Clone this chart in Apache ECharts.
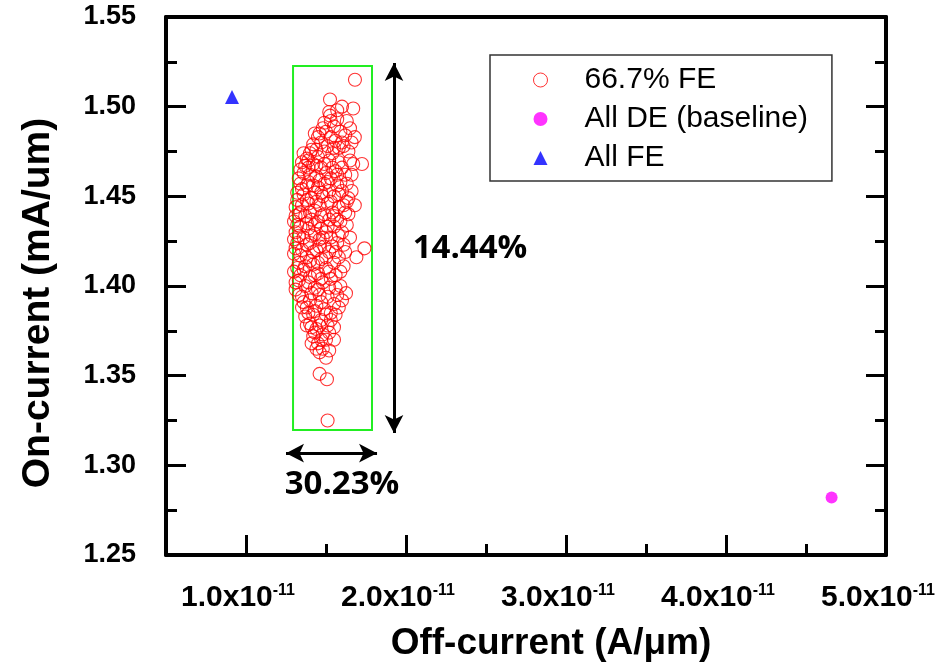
<!DOCTYPE html>
<html>
<head>
<meta charset="utf-8">
<script src="https://cdn.jsdelivr.net/npm/echarts@6/dist/echarts.min.js"></script>
<style>
html,body{margin:0;padding:0;background:#fff;}
#main{width:948px;height:672px;}
</style>
</head>
<body>
<div id="main"></div>
<script>
// Off-current in units of 1e-11 A/um, On-current in mA/um
const fe667Points = [
  [1.681,1.515],[1.525,1.504],[1.60,1.500],[1.67,1.499],[1.525,1.495],[1.53,1.492],[1.52,1.497],[1.57,1.493],
  [1.48,1.488],[1.55,1.489],[1.50,1.486],[1.65,1.488],[1.59,1.486],[1.46,1.485],[1.68,1.483],[1.62,1.484],
  [1.53,1.483],[1.49,1.491],[1.60,1.480],[1.45,1.483],[1.64,1.475],[1.41,1.476],[1.55,1.477],
  [1.42,1.479],[1.47,1.480],[1.51,1.478],[1.56,1.481],[1.44,1.476],[1.58,1.477],[1.49,1.475],[1.40,1.474],
  [1.54,1.474],[1.61,1.478],[1.45,1.472],[1.38,1.471],
  [1.35,1.469],[1.37,1.467],[1.42,1.468],[1.52,1.470],[1.58,1.469],[1.65,1.470],[1.725,1.468],[1.47,1.466],
  [1.56,1.464],[1.36,1.463],[1.40,1.462],[1.50,1.463],[1.44,1.461],[1.53,1.460],[1.62,1.462],[1.33,1.460],
  [1.39,1.470],[1.44,1.467],[1.49,1.468],[1.54,1.466],[1.46,1.459],[1.39,1.458],[1.51,1.458],
  [1.34,1.457],[1.38,1.456],[1.45,1.455],[1.49,1.457],[1.57,1.456],[1.43,1.452],[1.52,1.453],[1.60,1.453],
  [1.36,1.451],[1.41,1.449],[1.48,1.450],[1.55,1.450],[1.64,1.449],[1.32,1.448],
  [1.35,1.454],[1.42,1.456],[1.47,1.452],[1.58,1.451],[1.38,1.448],[1.44,1.447],[1.53,1.447],
  [1.31,1.444],[1.35,1.445],[1.39,1.446],[1.46,1.445],[1.51,1.446],[1.58,1.444],[1.68,1.445],[1.43,1.442],
  [1.54,1.441],[1.33,1.440],[1.37,1.439],[1.49,1.440],[1.62,1.441],[1.41,1.437],[1.45,1.436],[1.52,1.437],
  [1.30,1.436],[1.57,1.437],[1.34,1.441],[1.40,1.441],[1.47,1.439],[1.55,1.439],
  [1.34,1.433],[1.39,1.432],[1.47,1.432],[1.55,1.433],[1.31,1.430],[1.43,1.429],[1.50,1.430],[1.60,1.430],
  [1.36,1.427],[1.46,1.426],[1.53,1.427],[1.32,1.424],[1.40,1.424],[1.57,1.424],[1.49,1.422],[1.74,1.421],
  [1.69,1.416],[1.44,1.420],[1.35,1.420],[1.52,1.419],[1.30,1.418],[1.62,1.419],
  [1.38,1.435],[1.43,1.434],[1.51,1.433],[1.33,1.428],[1.41,1.428],[1.48,1.427],[1.38,1.423],[1.46,1.422],
  [1.54,1.422],[1.42,1.419],[1.34,1.417],[1.50,1.416],
  [1.38,1.416],[1.47,1.415],[1.33,1.413],[1.42,1.412],[1.55,1.413],[1.50,1.410],[1.36,1.409],[1.30,1.408],
  [1.45,1.407],[1.59,1.408],[1.40,1.405],[1.53,1.404],[1.33,1.403],[1.48,1.402],[1.37,1.400],[1.43,1.399],
  [1.56,1.399],[1.31,1.398],[1.40,1.414],[1.45,1.413],[1.37,1.411],[1.52,1.408],[1.43,1.406],[1.34,1.406],
  [1.47,1.404],[1.39,1.402],[1.45,1.398],[1.52,1.399],
  [1.625,1.396],[1.46,1.395],[1.51,1.394],[1.35,1.394],[1.40,1.392],[1.55,1.390],[1.44,1.389],[1.38,1.388],
  [1.49,1.387],[1.58,1.388],[1.42,1.384],[1.53,1.385],[1.37,1.383],[1.47,1.381],[1.40,1.379],[1.51,1.378],
  [1.44,1.376],[1.55,1.377],[1.42,1.372],[1.48,1.373],[1.45,1.368],[1.50,1.370],[1.44,1.365],[1.52,1.374],
  [1.41,1.396],[1.36,1.391],[1.47,1.391],[1.43,1.386],[1.50,1.384],[1.46,1.378],[1.39,1.385],[1.41,1.377],
  [1.53,1.381],[1.47,1.370],[1.43,1.374],[1.48,1.365],[1.46,1.363],
  [1.57,1.462],[1.60,1.466],[1.59,1.458],[1.61,1.445],[1.63,1.457],[1.66,1.462],[1.59,1.436],[1.63,1.434],
  [1.58,1.428],[1.61,1.423],[1.58,1.416],[1.56,1.406],[1.61,1.411],[1.57,1.395],[1.59,1.400],[1.56,1.384],
  [1.32,1.452],[1.31,1.439],[1.32,1.434],[1.30,1.426],[1.31,1.421],[1.32,1.410],[1.31,1.402],[1.33,1.395],
  [1.35,1.388],[1.34,1.465],[1.36,1.474],[1.43,1.485],[1.57,1.498],[1.63,1.492],[1.66,1.480],[1.67,1.468],
  [1.52,1.364],[1.55,1.370],[1.50,1.360],[1.41,1.368],[1.38,1.378],[1.39,1.466],[1.56,1.419],[1.63,1.447],
  [1.66,1.453],[1.64,1.440],[1.65,1.427],[1.60,1.392],
  [1.46,1.351],[1.506,1.348],[1.51,1.325]
];
const allDEPoints = [[4.66, 1.282]];
const allFEPoints = [[0.9125, 1.5054]];

const seriesNames = ['66.7% FE', 'All DE (baseline)', 'All FE'];
const xMajorTicks = [1, 2, 3, 4];
const xMinorTicks = [1.5, 2.5, 3.5, 4.5];
const xLabelValues = [1, 2, 3, 4, 5];

// annotation geometry in data units
const boxCorners = [[1.294, 1.3197], [1.7875, 1.5227]];
const vArrow = [[1.925, 1.5243], [1.925, 1.318]];
const hArrow = [[1.25, 1.3068], [1.819, 1.3068]];
const annotations = [
  {text: '14.44%', coord: [2.4, 1.4206]},
  {text: '30.23%', coord: [1.6, 1.2895]}
];

const chart = echarts.init(document.getElementById('main'), null, {renderer: 'canvas'});

const axisLineStyle = {color: '#000', width: 4};
const tickStyle = {color: '#000', width: 3};
const narrow = "'Liberation Sans Narrow', 'Liberation Sans', Arial, sans-serif";
const arial = "'Liberation Sans', Arial, sans-serif";

const option = {
  backgroundColor: '#fff',
  animation: false,
  grid: {left: 166, right: 62, top: 17, bottom: 117, containLabel: false},
  legend: {
    show: true,
    orient: 'vertical',
    left: 490, top: 55,
    padding: [10, 24, 8, 43],
    itemGap: 9,
    itemWidth: 14, itemHeight: 14,
    borderColor: '#333', borderWidth: 1.5,
    textStyle: {fontFamily: arial, fontSize: 30, color: '#000', lineHeight: 30, padding: [0, 0, 0, 32]},
    data: [
      {name: seriesNames[0], icon: 'circle', itemStyle: {color: '#fff', borderColor: '#ff0000', borderWidth: 1}},
      {name: seriesNames[1], icon: 'circle'},
      {name: seriesNames[2], icon: 'triangle'}
    ]
  },
  xAxis: [
    {
      type: 'value', min: 0.5, max: 5.0, interval: 0.5, position: 'bottom',
      name: 'Off-current (A/\u03bcm)', nameLocation: 'middle', nameGap: 70,
      nameTextStyle: {fontFamily: arial, fontWeight: 'bold', fontSize: 37, color: '#000', padding: [0, 0, 0, 50]},
      axisLine: {show: true, lineStyle: axisLineStyle},
      axisTick: {show: true, inside: true, length: 20, lineStyle: tickStyle, customValues: xMajorTicks},
      splitLine: {show: false},
      axisLabel: {
        show: true, margin: 28, customValues: xLabelValues,
        formatter: v => '{m|' + v.toFixed(1) + 'x10}{s|-11}',
        rich: {
          m: {fontFamily: narrow, fontWeight: 'bold', fontSize: 30, color: '#000', padding: [0, 0, 0, 0]},
          s: {fontFamily: narrow, fontWeight: 'bold', fontSize: 16, color: '#000', verticalAlign: 'top', padding: [0, 16, 0, 0]}
        }
      }
    },
    {
      type: 'value', min: 0.5, max: 5.0, interval: 0.5, position: 'bottom',
      axisLine: {show: false},
      axisTick: {show: true, inside: true, length: 11, lineStyle: tickStyle, customValues: xMinorTicks},
      axisLabel: {show: false}, splitLine: {show: false}
    },
    {
      type: 'value', min: 0.5, max: 5.0, interval: 0.5, position: 'top',
      axisLine: {show: true, onZero: false, lineStyle: axisLineStyle},
      axisTick: {show: false}, axisLabel: {show: false}, splitLine: {show: false}
    }
  ],
  yAxis: [
    {
      type: 'value', min: 1.25, max: 1.55, interval: 0.05, position: 'left',
      name: 'On-current (mA/um)', nameLocation: 'middle', nameGap: 108,
      nameTextStyle: {fontFamily: arial, fontWeight: 'bold', fontSize: 39, color: '#000', padding: [0, 34, 0, 0]},
      axisLine: {show: true, onZero: false, lineStyle: axisLineStyle},
      axisTick: {show: true, inside: true, length: 20, lineStyle: tickStyle},
      minorTick: {show: true, splitNumber: 2, length: 11, lineStyle: tickStyle},
      axisLabel: {show: true, margin: 30, fontFamily: arial, fontWeight: 'bold', fontSize: 27, color: '#000',
        formatter: v => v.toFixed(2)},
      splitLine: {show: false}
    },
    {
      type: 'value', min: 1.25, max: 1.55, interval: 0.05, position: 'right',
      axisLine: {show: true, onZero: false, lineStyle: axisLineStyle},
      axisTick: {show: true, inside: true, length: 20, lineStyle: tickStyle},
      minorTick: {show: true, splitNumber: 2, length: 11, lineStyle: tickStyle},
      axisLabel: {show: false}, splitLine: {show: false}
    }
  ],
  series: [
    {
      name: seriesNames[0], type: 'scatter', xAxisIndex: 0, yAxisIndex: 0,
      data: fe667Points, symbol: 'circle', symbolSize: 13,
      itemStyle: {color: 'rgba(255,255,255,0)', borderColor: '#ff0000', borderWidth: 1.1},
      emphasis: {disabled: true},
      markArea: {
        silent: true,
        itemStyle: {color: 'rgba(0,0,0,0)', borderColor: '#22ee22', borderWidth: 2},
        data: [[{coord: boxCorners[0]}, {coord: boxCorners[1]}]]
      },
      markLine: {
        silent: true, symbol: ['arrow', 'arrow'], symbolSize: [14, 18],
        lineStyle: {color: '#000', width: 3, type: 'solid'},
        label: {show: false},
        data: [
          [{coord: vArrow[0]}, {coord: vArrow[1]}],
          [{coord: hArrow[0]}, {coord: hArrow[1]}]
        ]
      },
      markPoint: {
        silent: true, symbol: 'circle', symbolSize: 0,
        label: {show: true, position: 'inside', fontFamily: "'Open Sans', 'DejaVu Sans', sans-serif", fontWeight: 'bold',
          fontSize: 33, color: '#000', formatter: p => p.name},
        data: annotations.map(a => ({name: a.text, coord: a.coord}))
      }
    },
    {
      name: seriesNames[1], type: 'scatter', xAxisIndex: 0, yAxisIndex: 0,
      data: allDEPoints, symbol: 'circle', symbolSize: 12,
      itemStyle: {color: '#ff00ff'}
    },
    {
      name: seriesNames[2], type: 'scatter', xAxisIndex: 0, yAxisIndex: 0,
      data: allFEPoints, symbol: 'triangle', symbolSize: 14,
      itemStyle: {color: '#0000ff'}
    }
  ]
};
chart.setOption(option);
</script>
</body>
</html>
